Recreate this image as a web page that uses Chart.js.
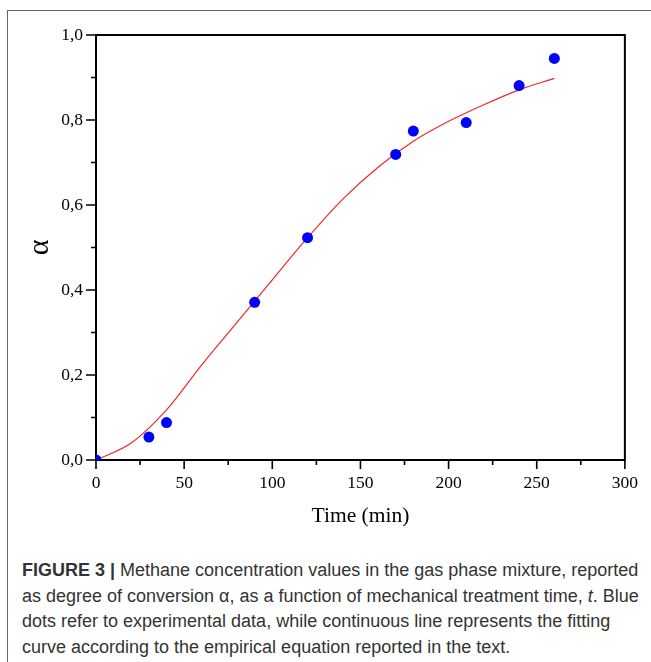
<!DOCTYPE html>
<html><head><meta charset="utf-8">
<script src="https://cdn.jsdelivr.net/npm/chart.js@4.4.1/dist/chart.umd.min.js"></script>
<style>
html,body{margin:0;padding:0;background:#fff;width:651px;height:662px;overflow:hidden;}
#frame{position:absolute;left:7px;top:10px;width:700px;height:700px;border-left:1px solid #666;border-top:1px solid #666;}
#wrap{position:absolute;left:0;top:0;width:651px;height:540px;}
#cap{position:absolute;left:22px;top:558px;font-family:"Liberation Sans",Arial,sans-serif;font-size:18px;line-height:25.6px;color:#333;white-space:nowrap;}
</style></head>
<body>
<div id="frame"></div>
<div id="wrap"><canvas id="c" width="651" height="540"></canvas></div>
<div id="cap"><b>FIGURE 3 |</b> Methane concentration values in the gas phase mixture, reported<br>as degree of conversion α, as a function of mechanical treatment time, <i>t</i>. Blue<br>dots refer to experimental data, while continuous line represents the fitting<br>curve according to the empirical equation reported in the text.</div>
<script>
// Experimental data (blue dots)
const timeMin = [0, 30, 40, 90, 120, 170, 180, 210, 240, 260];
const alphaExp = [0, 0.054, 0.088, 0.371, 0.523, 0.719, 0.774, 0.794, 0.881, 0.945];
// Fitting curve (red line)
const fitTime = [0, 20, 40, 60, 80, 100, 120, 140, 160, 180, 200, 220, 240, 260];
const fitAlpha = [0, 0.04, 0.118, 0.224, 0.324, 0.424, 0.523, 0.614, 0.689, 0.75, 0.797, 0.836, 0.871, 0.898];
// Axis settings
const xMin = 0, xMax = 300, xStep = 50;
const yMin = 0, yMax = 1, yStep = 0.2;
const xTitle = 'Time (min)';
const yTitle = 'α';

const expPts = timeMin.map((t, i) => ({x: t, y: alphaExp[i]}));
const fitPts = fitTime.map((t, i) => ({x: t, y: fitAlpha[i]}));

const serif = '"Liberation Serif","Times New Roman",serif';

const axisFrame = {
  id: 'axisFrame',
  afterDatasetsDraw(chart) {
    const {ctx, chartArea: a, scales: {x, y}} = chart;
    ctx.save();
    ctx.strokeStyle = '#000';
    ctx.lineWidth = 2;
    ctx.beginPath();
    ctx.moveTo(a.left - 1, a.top);
    ctx.lineTo(a.right, a.top);
    ctx.lineTo(a.right, a.bottom + 1);
    ctx.stroke();
    ctx.lineWidth = 1.6;
    const xt = x.ticks.map(t => t.value);
    const yt = y.ticks.map(t => t.value);
    ctx.beginPath();
    xt.forEach((v, i) => {
      const px = x.getPixelForValue(v);
      ctx.moveTo(px, a.bottom); ctx.lineTo(px, a.bottom + 9);
      if (i < xt.length - 1) {
        const pm = x.getPixelForValue((v + xt[i + 1]) / 2);
        ctx.moveTo(pm, a.bottom); ctx.lineTo(pm, a.bottom + 5);
      }
    });
    yt.forEach((v, i) => {
      const py = y.getPixelForValue(v);
      ctx.moveTo(a.left, py); ctx.lineTo(a.left - 10, py);
      if (i < yt.length - 1) {
        const pm = y.getPixelForValue((v + yt[i + 1]) / 2);
        ctx.moveTo(a.left, pm); ctx.lineTo(a.left - 5, pm);
      }
    });
    ctx.stroke();
    ctx.restore();
  }
};

new Chart(document.getElementById('c'), {
  type: 'scatter',
  data: {
    datasets: [
      {
        label: 'fit', type: 'line', data: fitPts,
        borderColor: 'rgb(240,40,40)', borderWidth: 1.2,
        pointRadius: 0, fill: false, cubicInterpolationMode: 'monotone', order: 2
      },
      {
        label: 'exp', data: expPts,
        backgroundColor: '#0000ff', borderColor: '#0000ff', borderWidth: 0,
        pointRadius: 5.5, clip: 0, order: 1
      }
    ]
  },
  options: {
    responsive: false,
    animation: false,
    layout: {padding: {left: 0, right: 24, top: 35, bottom: 0}},
    plugins: {legend: {display: false}, tooltip: {enabled: false}},
    scales: {
      x: {
        type: 'linear', min: xMin, max: xMax,
        afterFit: s => { s.height = 80; },
        grid: {display: false, drawTicks: false},
        border: {display: true, color: '#000', width: 2},
        ticks: {stepSize: xStep, padding: 13, color: '#000', font: {family: serif, size: 17.5}, maxRotation: 0,
          callback: v => String(v)},
        title: {display: true, text: xTitle, color: '#000', font: {family: serif, size: 21.5}, padding: {top: 0, bottom: 11}}
      },
      y: {
        type: 'linear', min: yMin, max: yMax,
        afterFit: s => { s.width = 96; },
        grid: {display: false, drawTicks: false},
        border: {display: true, color: '#000', width: 2},
        ticks: {stepSize: yStep, padding: 13, color: '#000', font: {family: serif, size: 17.5},
          callback: v => Number(v).toFixed(1).replace('.', ',')},
        title: {display: true, text: yTitle, color: '#000', font: {family: serif, size: 30}, padding: {top: 22, bottom: 0}}
      }
    }
  },
  plugins: [axisFrame]
});
</script>
</body></html>
